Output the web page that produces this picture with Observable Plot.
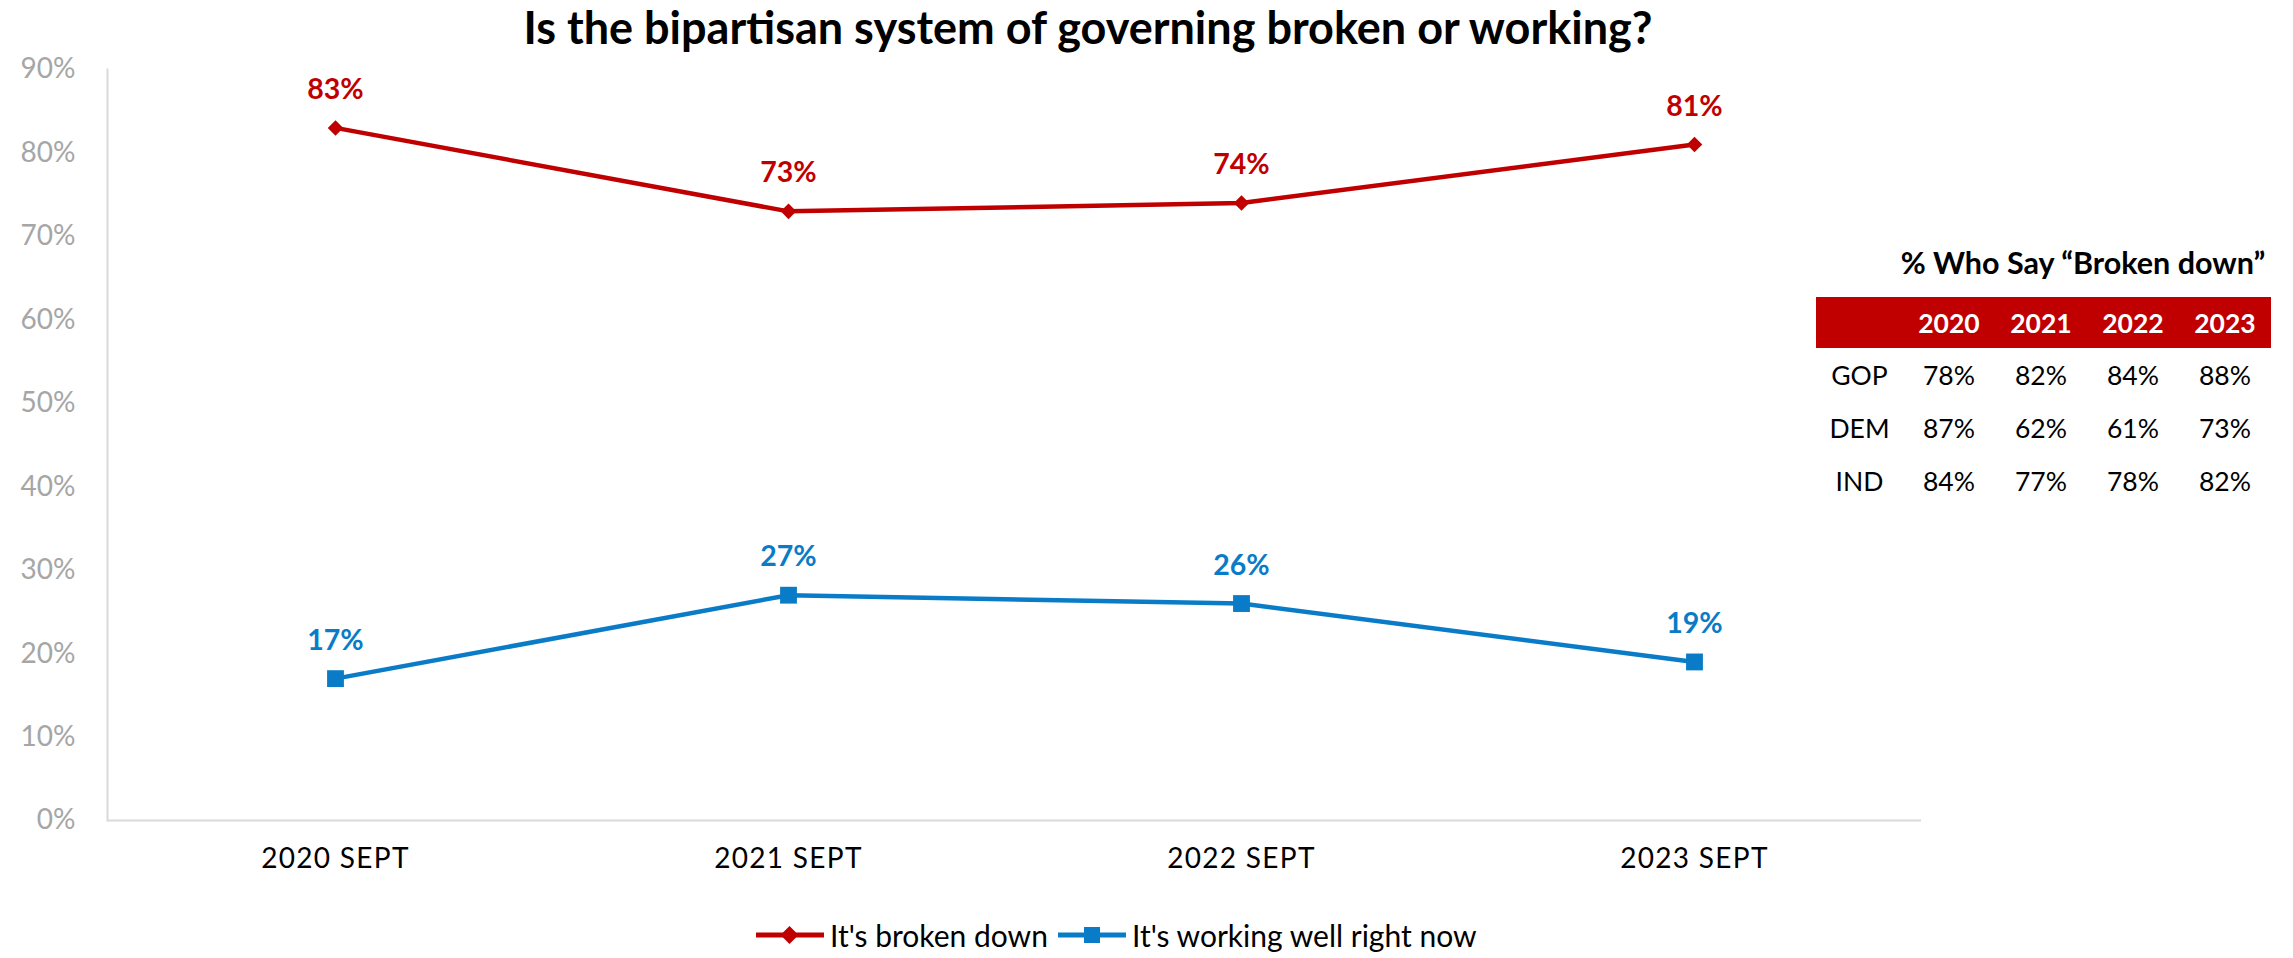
<!DOCTYPE html>
<html>
<head>
<meta charset="utf-8">
<script src="https://cdn.jsdelivr.net/npm/d3@7"></script>
<script src="https://cdn.jsdelivr.net/npm/@observablehq/plot@0.6"></script>
<style>
  html, body { margin: 0; padding: 0; background: #fff; }
  #wrap { position: relative; width: 2293px; height: 958px; overflow: hidden; font-family: Lato, "Open Sans", sans-serif; }
  #title { width: 2176px; height: 50px; line-height: 54px; text-align: center; font-size: 45px; font-weight: 700; color: #000; white-space: nowrap; }
  #chart svg { display: block; }
  [aria-label="x-axis tick label"] { letter-spacing: 1.3px; }
  #legend { position: absolute; left: 756px; top: 916px; display: flex; align-items: center; font-size: 30px; line-height: 38px; color: #000; white-space: nowrap; }
  #legend .item { display: flex; align-items: center; }
  #tableTitle { position: absolute; left: 1883px; top: 244px; width: 400px; text-align: center; font-size: 30.5px; font-weight: 700; line-height: 36px; white-space: nowrap; }
  #tbl { position: absolute; left: 1816px; top: 297px; border-collapse: collapse; font-size: 26.5px; }
  #tbl th, #tbl td { padding: 0; text-align: center; }
  #tbl thead tr { background: #c00000; color: #fff; height: 51px; font-weight: 700; }
  #tbl tbody tr { height: 53px; color: #000; }
</style>
</head>
<body>
<div id="wrap">
  <div id="title"></div>
  <div id="chart"></div>
  <div id="legend"></div>
  <div id="tableTitle"></div>
  <table id="tbl"><thead></thead><tbody></tbody></table>
</div>
<script>
// ---- Data ----
const chartTitle = "Is the bipartisan system of governing broken or working?";
const periods = ["2020 SEPT", "2021 SEPT", "2022 SEPT", "2023 SEPT"];
const brokenDown = [83, 73, 74, 81];
const workingWell = [17, 27, 26, 19];
const seriesNames = ["It's broken down", "It's working well right now"];
const seriesColors = ["#c00000", "#0a7cc7"];
const yTicks = [0, 10, 20, 30, 40, 50, 60, 70, 80, 90];

const tableTitle = "% Who Say “Broken down”";
const tableYears = ["2020", "2021", "2022", "2023"];
const parties = ["GOP", "DEM", "IND"];
const gopBroken = [78, 82, 84, 88];
const demBroken = [87, 62, 61, 73];
const indBroken = [84, 77, 78, 82];

// ---- Build rows ----
const broken = periods.map((p, i) => ({period: p, value: brokenDown[i] / 100, series: seriesNames[0]}));
const working = periods.map((p, i) => ({period: p, value: workingWell[i] / 100, series: seriesNames[1]}));

document.getElementById("title").textContent = chartTitle;

const chart = Plot.plot({
  width: 2293,
  height: 870,
  marginLeft: 107,
  marginRight: 372,
  marginTop: 19,
  marginBottom: 100,
  style: {fontFamily: "Lato, 'Open Sans', sans-serif", fontSize: "28px", background: "#fff"},
  x: {type: "point", domain: periods, padding: 0.5},
  y: {domain: [0, 0.9]},
  marks: [
    Plot.frame({anchor: "left", stroke: "#d9d9d9", strokeWidth: 2}),
    Plot.ruleY([0], {stroke: "#d9d9d9", strokeWidth: 2}),
    Plot.axisY({ticks: yTicks.map(t => t / 100), tickFormat: d3.format(".0%"), tickSize: 0, tickPadding: 32, color: "#a6a6a6", label: null, fontSize: 28}),
    Plot.axisX({tickSize: 0, tickPadding: 28, color: "#000", label: null, fontSize: 28}),
    Plot.line(broken, {x: "period", y: "value", stroke: seriesColors[0], strokeWidth: 4.5}),
    Plot.line(working, {x: "period", y: "value", stroke: seriesColors[1], strokeWidth: 4.5}),
    Plot.dot(broken, {x: "period", y: "value", symbol: "diamond2", r: 7, fill: seriesColors[0], stroke: null}),
    Plot.dot(working, {x: "period", y: "value", symbol: "square", r: 9.5, fill: seriesColors[1], stroke: null}),
    Plot.text(broken, {x: "period", y: "value", text: d => d3.format(".0%")(d.value), dy: -38, fill: seriesColors[0], fontWeight: "bold", fontSize: 28.5}),
    Plot.text(working, {x: "period", y: "value", text: d => d3.format(".0%")(d.value), dy: -38, fill: seriesColors[1], fontWeight: "bold", fontSize: 28.5})
  ]
});
document.getElementById("chart").appendChild(chart);

// ---- Legend ----
const legend = document.getElementById("legend");
const swatchShapes = [
  '<path d="M33.5,-9 L42.5,0 L33.5,9 L24.5,0 Z"/>',
  '<rect x="26" y="-8" width="16" height="16"/>'
];
seriesNames.forEach((name, i) => {
  const item = document.createElement("div");
  item.className = "item";
  item.style.marginRight = i === 0 ? "10px" : "0";
  item.innerHTML =
    `<svg width="70" height="24" viewBox="0 -12 70 24" style="margin-right:4px">` +
    `<line x1="0" x2="68" y1="0" y2="0" stroke="${seriesColors[i]}" stroke-width="5"/>` +
    `<g fill="${seriesColors[i]}">${swatchShapes[i]}</g></svg>` +
    `<span>${name}</span>`;
  legend.appendChild(item);
});

// ---- Table ----
document.getElementById("tableTitle").textContent = tableTitle;
const colWidths = [87, 92, 92, 92, 92];
const thead = document.querySelector("#tbl thead");
const hr = document.createElement("tr");
["", ...tableYears].forEach((t, i) => {
  const th = document.createElement("th");
  th.textContent = t;
  th.style.width = colWidths[i] + "px";
  hr.appendChild(th);
});
thead.appendChild(hr);
const tbody = document.querySelector("#tbl tbody");
[gopBroken, demBroken, indBroken].forEach((vals, r) => {
  const tr = document.createElement("tr");
  [parties[r], ...vals.map(v => v + "%")].forEach(t => {
    const td = document.createElement("td");
    td.textContent = t;
    tr.appendChild(td);
  });
  tbody.appendChild(tr);
});
</script>
</body>
</html>
